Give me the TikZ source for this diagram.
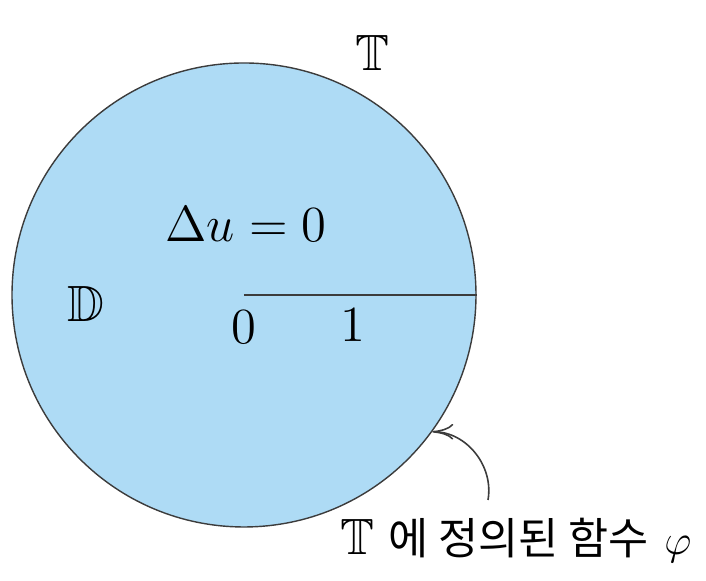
\documentclass[tikz,border=0pt]{standalone}
\usepackage{amssymb}
\usepackage{fontspec}
\usetikzlibrary{arrows.meta}
\newfontfamily\kofont{Noto Sans CJK KR}
\definecolor{diskblue}{RGB}{174,219,245}
\definecolor{edgegray}{RGB}{60,60,60}
\tikzset{
  disk/.style={circle,draw=edgegray,fill=diskblue,minimum size=4.64cm,inner sep=0pt},
  radius line/.style={draw=edgegray,line width=0.7pt},
  pointer/.style={draw=edgegray,line width=0.45pt,-{To[length=6pt,width=4.5pt]}}
}
\tikzstyle{every node}=[font=\fontsize{14.5}{17}\selectfont]

\begin{document}
\begin{tikzpicture}
    \useasboundingbox (0,0) rectangle (7.06,5.81);
    \node[disk] (D) at (2.44,2.86) {};
    \coordinate (O) at (D.center);
    \draw [radius line] (O) -- (D.east);
    \node (zero) at (2.44,2.54) {\(0\)};
    \node (one) at (3.53,2.56) {\(1\)};
    \node (lap) at (2.46,3.57) {\(\Delta u = 0\)};
    \node (disklabel) at (0.86,2.77) {\(\mathbb{D}\)};
    \node (circlelabel) at (3.72,5.28) {\(\mathbb{T}\)};
    \node (phi) at (5.16,0.41) {\(\mathbb{T}\)\hspace{0.14cm}{\kofont\fontsize{12.4}{15}\selectfont 에 정의된 함수}\hspace{0.16cm}{\fontsize{12.5}{15}\selectfont\(\varphi\)}};
    \coordinate (tail) at (4.88,0.81);
    \draw [pointer] (tail) to[out=80,in=0] (D.-36);
\end{tikzpicture}
\end{document}
